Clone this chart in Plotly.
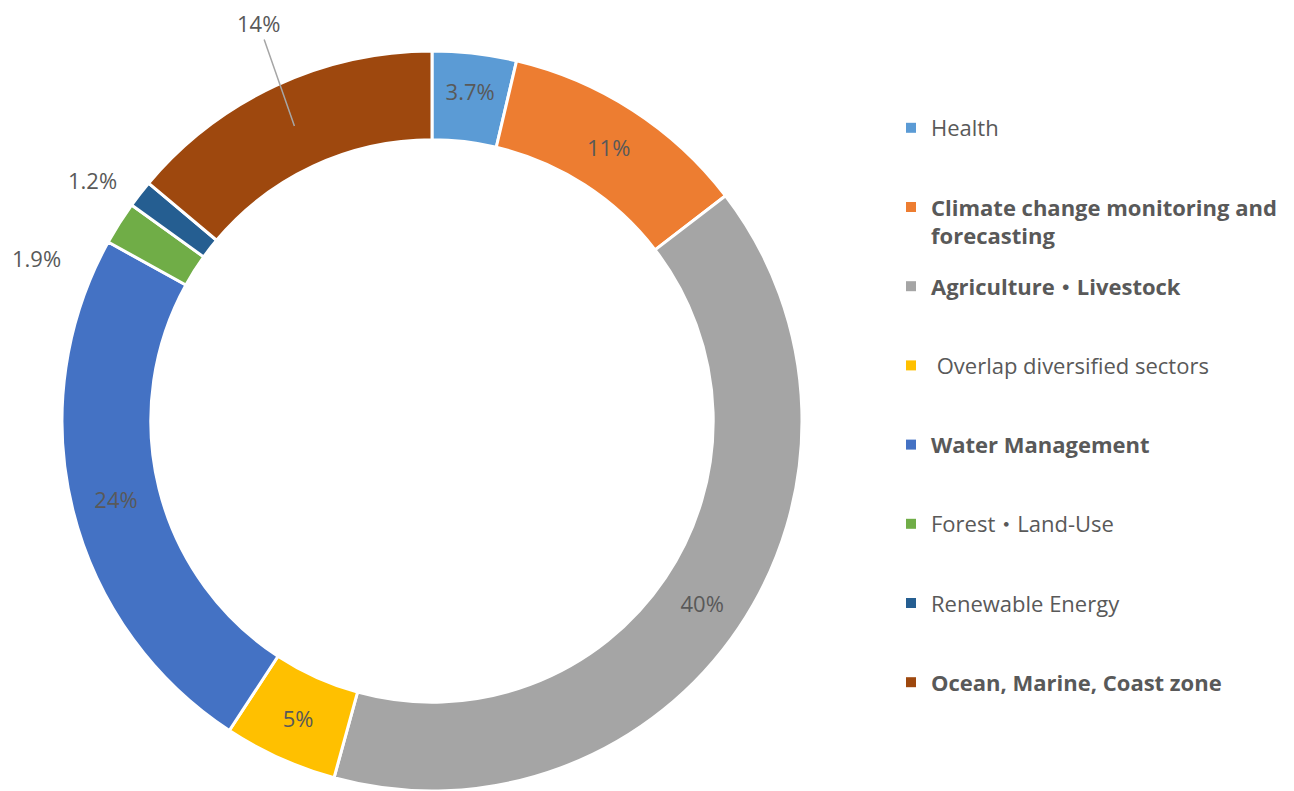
import math
import plotly.graph_objects as go

# ---- data ----
categories = [
    "Health",
    "Climate change monitoring and forecasting",
    "Agriculture・Livestock",
    "Overlap diversified sectors",
    "Water Management",
    "Forest・Land-Use",
    "Renewable Energy",
    "Ocean, Marine, Coast zone",
]
legend_labels = [
    "Health",
    "<b>Climate change monitoring and<br>forecasting</b>",
    "<b>Agriculture・Livestock</b>",
    "&nbsp;Overlap diversified sectors",
    "<b>Water Management</b>",
    "Forest・Land-Use",
    "Renewable Energy",
    "<b>Ocean, Marine, Coast zone</b>",
]
values = [3.7, 11, 40, 5, 24, 1.9, 1.2, 14]
value_labels = ["3.7%", "11%", "40%", "5%", "24%", "1.9%", "1.2%", "14%"]
colors = ["#5B9BD5", "#ED7D31", "#A5A5A5", "#FFC000", "#4472C4", "#70AD47", "#255E91", "#9E480E"]

# which labels sit inside the ring, and which are drawn outside
inside = [True, True, True, True, True, False, False, False]

# ---- layout constants ----
W, H = 1294, 791
PAGE = 8                          # browser body margin around the figure
CX, CY, R = 432 - PAGE, 421 - PAGE, 370   # donut centre / radius (figure px)
HOLE = 0.76
FONT = "Open Sans, Noto Sans CJK KR, sans-serif"
TXT = "#595959"
FS = 22

texts = [t if ins else "" for t, ins in zip(value_labels, inside)]

fig = go.Figure()
fig.add_trace(go.Pie(
    labels=categories,
    values=values,
    text=texts,
    textinfo="text",
    textposition="inside",
    insidetextorientation="horizontal",
    sort=False,
    direction="clockwise",
    rotation=0,
    hole=HOLE,
    marker=dict(colors=colors, line=dict(color="white", width=3)),
    textfont=dict(family=FONT, size=FS, color=TXT),
    hoverinfo="skip",
    showlegend=False,
    domain=dict(x=[(CX - R) / W, (CX + R) / W], y=[(H - CY - R) / H, (H - CY + R) / H]),
))

# legend entries (one group each so spacing can be controlled)
for i, (lbl, c) in enumerate(zip(legend_labels, colors)):
    n = lbl.count("<br>") + 1
    name = lbl + "<br> " * (2 - n)
    fig.add_trace(go.Scatter(
        x=[None], y=[None], mode="markers",
        marker=dict(symbol="square", size=10, color=c),
        name=name, legendgroup=f"g{i}", showlegend=True, hoverinfo="skip",
    ))

# outside labels, positioned from slice angles computed from the data
S = sum(values)
cum = 0.0
mids = []
for v in values:
    mids.append(2 * math.pi * (cum + v / 2) / S)
    cum += v

def polar(theta, r):
    return CX + r * math.sin(theta), CY - r * math.cos(theta)

# small slices: labels just outside the ring
label_shift = {5: (-50, -39), 6: (-15, 9)}
for idx, (dx, dy) in label_shift.items():
    x, y = polar(mids[idx], R + 8)
    fig.add_annotation(
        x=x / W, y=1 - y / H, xref="paper", yref="paper",
        text=value_labels[idx], showarrow=False,
        xanchor="right", yanchor="middle", xshift=dx, yshift=dy,
        font=dict(family=FONT, size=FS, color=TXT),
    )

# last slice: label with leader line
r_mid = R * (1 + HOLE) / 2
x, y = polar(mids[7], r_mid)
fig.add_annotation(
    x=x / W, y=1 - y / H, xref="paper", yref="paper",
    text=value_labels[7], showarrow=True, arrowhead=0, arrowwidth=1.5,
    arrowcolor="#A6A6A6", ax=-36, ay=-103, standoff=0,
    font=dict(family=FONT, size=FS, color=TXT),
)

fig.update_layout(
    width=W, height=H,
    margin=dict(l=0, r=0, t=0, b=0, pad=0, autoexpand=False),
    paper_bgcolor="white",
    plot_bgcolor="white",
    font=dict(family=FONT, size=FS, color=TXT),
    xaxis=dict(visible=False),
    yaxis=dict(visible=False),
    showlegend=True,
    legend=dict(
        x=883 / W, xanchor="left",
        y=1 - 99 / H, yanchor="top",
        valign="top",
        tracegroupgap=19,
        font=dict(family=FONT, size=FS, color=TXT),
        bgcolor="rgba(0,0,0,0)",
        itemclick=False, itemdoubleclick=False,
    ),
)

fig.write_html("out.html")
